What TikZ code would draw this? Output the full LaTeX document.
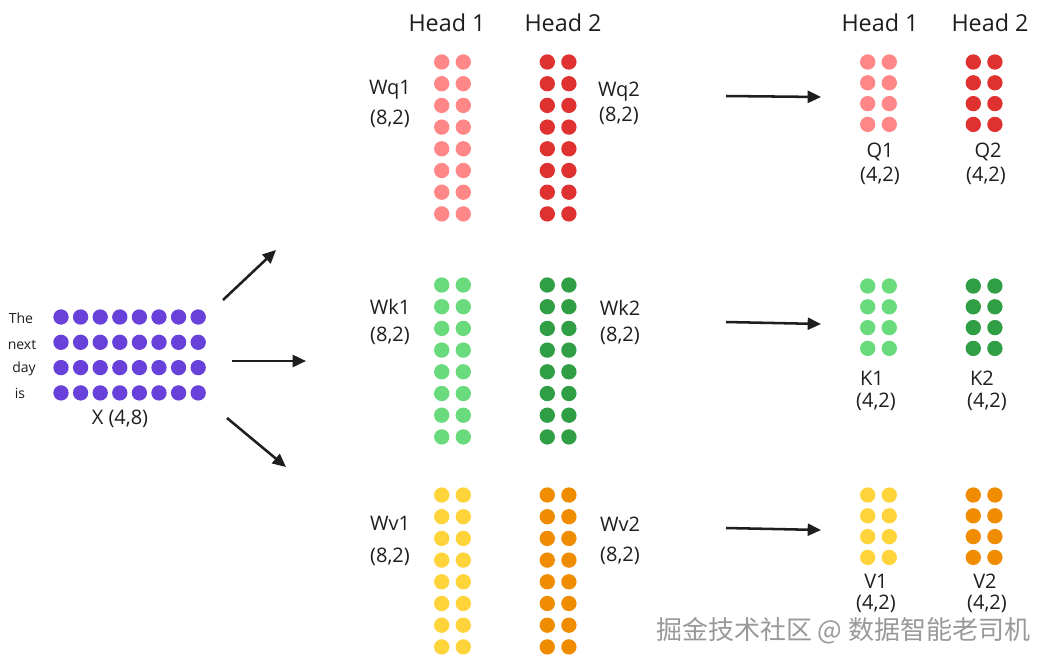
\documentclass[tikz,border=0pt]{standalone}
\usepackage{fontspec}
\setmainfont{Open Sans}
\newfontfamily\cjkfont{Noto Sans CJK SC}
\usetikzlibrary{arrows.meta}
\definecolor{xpurple}{HTML}{6741D9}
\definecolor{qlight}{HTML}{FF8787}
\definecolor{qdark}{HTML}{E03131}
\definecolor{klight}{HTML}{69DB7C}
\definecolor{kdark}{HTML}{2F9E44}
\definecolor{vlight}{HTML}{FFD43B}
\definecolor{vdark}{HTML}{F08C00}
\definecolor{ink}{HTML}{1E1E1E}
\begin{document}
\begin{tikzpicture}[x=0.75pt,y=-0.75pt,
  dot/.style={circle,inner sep=0pt,minimum size=11.5pt,draw=none},
  head/.style={font=\fontsize{17.5}{20}\selectfont,text=ink},
  lbl/.style={font=\fontsize{15}{17}\selectfont,text=ink,inner sep=1pt},
  tok/.style={font=\fontsize{10.5}{12}\selectfont,text=ink},
  arr/.style={line width=1.9pt,draw=ink,-{Triangle[length=10pt,width=9pt]}},
  wm/.style={font=\cjkfont\fontsize{19.5}{22}\selectfont,text=black!40,inner sep=1pt}]
\useasboundingbox (0,0) rectangle (1042,661);
\fill[white] (0,0) rectangle (1042,661);

% ---- input X (4,8)
\foreach \r in {0,...,3}
  \foreach \c in {0,...,7}
    \node[dot,fill=xpurple] (x-\r-\c) at ({61+19.6*\c},{317+25.3*\r}) {};
\node[tok] (tThe) at (21,318) {The};
\node[tok] (tnext) at (22,345) {next};
\node[tok] (tday) at (24,369) {day};
\node[tok] (tis) at (20,393) {is};
\node[lbl] (xlbl) at (120,419) {X (4,8)};

% ---- weight matrices (8,2)
\foreach \name/\col/\xx/\yy in {wq1/qlight/441.7/62, wq2/qdark/547.3/62,
                                 wk1/klight/441.7/285, wk2/kdark/547.3/285,
                                 wv1/vlight/441.7/495, wv2/vdark/547.3/495}
  \foreach \r in {0,...,7}
    \foreach \c in {0,1}
      \node[dot,fill=\col] (\name-\r-\c) at ({\xx+21.6*\c},{\yy+21.7*\r}) {};

% ---- result matrices (4,2)
\foreach \name/\col/\xx/\yy in {q1/qlight/867.7/62, q2/qdark/973.3/62,
                                 k1/klight/867.7/286, k2/kdark/973.3/286,
                                 v1/vlight/867.7/495, v2/vdark/973.3/495}
  \foreach \r in {0,...,3}
    \foreach \c in {0,1}
      \node[dot,fill=\col] (\name-\r-\c) at ({\xx+21.6*\c},{\yy+20.8*\r}) {};

% ---- headers
\node[head] (h1a) at (447,23) {Head 1};
\node[head] (h2a) at (563,23) {Head 2};
\node[head] (h1b) at (880,23) {Head 1};
\node[head] (h2b) at (990,23) {Head 2};

% ---- weight labels
\node[lbl] (lwq1) at (390,90) {Wq1};
\node[lbl] (swq1) at (390,119) {(8,2)};
\node[lbl] (lwq2) at (619,92) {Wq2};
\node[lbl] (swq2) at (619,116) {(8,2)};
\node[lbl] (lwk1) at (390,307) {Wk1};
\node[lbl] (swk1) at (390,336) {(8,2)};
\node[lbl] (lwk2) at (620,308) {Wk2};
\node[lbl] (swk2) at (620,336) {(8,2)};
\node[lbl] (lwv1) at (390,523) {Wv1};
\node[lbl] (swv1) at (390,557) {(8,2)};
\node[lbl] (lwv2) at (620,524) {Wv2};
\node[lbl] (swv2) at (620,556) {(8,2)};

% ---- result labels
\node[lbl] (lq1) at (880,152) {Q1};
\node[lbl] (sq1) at (880,176) {(4,2)};
\node[lbl] (lq2) at (988,152) {Q2};
\node[lbl] (sq2) at (986,176) {(4,2)};
\node[lbl] (lk1) at (872,378) {K1};
\node[lbl] (sk1) at (876,402) {(4,2)};
\node[lbl] (lk2) at (982,378) {K2};
\node[lbl] (sk2) at (987,402) {(4,2)};
\node[lbl] (lv1) at (876,581) {V1};
\node[lbl] (sv1) at (876,604) {(4,2)};
\node[lbl] (lv2) at (985,581) {V2};
\node[lbl] (sv2) at (987,604) {(4,2)};

% ---- arrows
\coordinate (a1s) at (223,300); \coordinate (a1e) at (276,250);
\coordinate (a2s) at (232,361); \coordinate (a2e) at (306,361);
\coordinate (a3s) at (227,418); \coordinate (a3e) at (286,467);
\coordinate (bqs) at (726,96);  \coordinate (bqe) at (821,97);
\coordinate (bks) at (726,322); \coordinate (bke) at (821,324);
\coordinate (bvs) at (726,528); \coordinate (bve) at (821,530);
\draw[arr] (a1s) -- (a1e);
\draw[arr] (a2s) -- (a2e);
\draw[arr] (a3s) -- (a3e);
\draw[arr] (bqs) -- (bqe);
\draw[arr] (bks) -- (bke);
\draw[arr] (bvs) -- (bve);

% ---- watermark
\node[wm,anchor=east] (wmark) at (1032,631) {掘金技术社区 @ 数据智能老司机};
\end{tikzpicture}
\end{document}
